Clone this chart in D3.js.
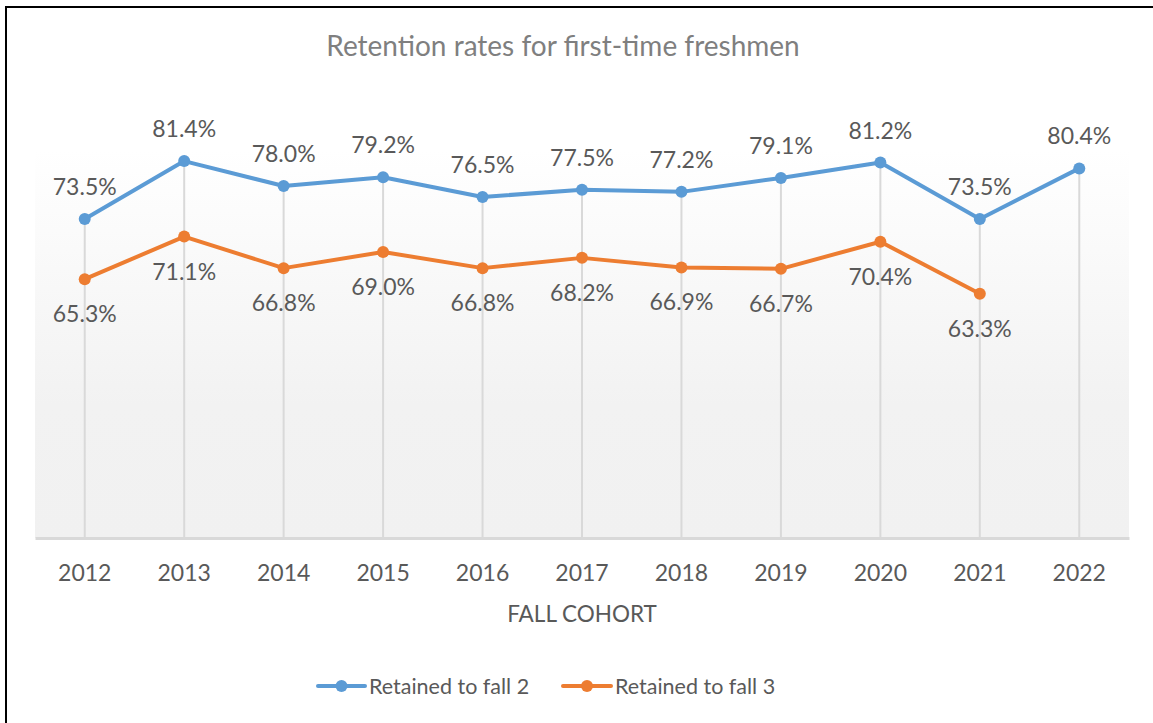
<!DOCTYPE html>
<html>
<head>
<meta charset="utf-8">
<script src="https://cdn.jsdelivr.net/npm/d3@7"></script>
<style>
  body { margin: 0; background: #fff; }
  text { font-family: Lato, "Open Sans", sans-serif; }
</style>
</head>
<body>
<div id="chart"></div>
<script>
// chart data
const years = ["2012", "2013", "2014", "2015", "2016", "2017", "2018", "2019", "2020", "2021", "2022"];
const fall2 = [73.5, 81.4, 78.0, 79.2, 76.5, 77.5, 77.2, 79.1, 81.2, 73.5, 80.4];
const fall3 = [65.3, 71.1, 66.8, 69.0, 66.8, 68.2, 66.9, 66.7, 70.4, 63.3, null];
const seriesNames = ["Retained to fall 2", "Retained to fall 3"];

const svgWidth = 1153;
const svgHeight = 723;
const plot = { left: 35, right: 1129, top: 98, bottom: 538 };
const blue = "#5b9bd5";
const orange = "#ed7d31";
const textColor = "#595959";

const svg = d3.select("#chart")
  .append("svg")
  .attr("width", svgWidth)
  .attr("height", svgHeight);

// outer border (right and bottom edges fall outside the picture)
svg.append("rect")
  .attr("x", 6)
  .attr("y", 7)
  .attr("width", svgWidth + 10)
  .attr("height", svgHeight + 10)
  .attr("fill", "#fff")
  .attr("stroke", "#000")
  .attr("stroke-width", 2);

// plot background gradient
const grad = svg.append("defs").append("linearGradient")
  .attr("id", "bg")
  .attr("x1", 0).attr("y1", 0).attr("x2", 0).attr("y2", 1);
grad.append("stop").attr("offset", "0%").attr("stop-color", "#ffffff");
grad.append("stop").attr("offset", "12%").attr("stop-color", "#ffffff");
grad.append("stop").attr("offset", "70%").attr("stop-color", "#f2f2f2");
grad.append("stop").attr("offset", "100%").attr("stop-color", "#f1f1f1");

svg.append("rect")
  .attr("x", plot.left)
  .attr("y", plot.top)
  .attr("width", plot.right - plot.left)
  .attr("height", plot.bottom - plot.top)
  .attr("fill", "url(#bg)");

// scales
const x = d3.scaleBand(years, [plot.left, plot.right]);
const y = d3.scaleLinear([30, 90], [plot.bottom, plot.top]);
const cx = d => x(d) + x.bandwidth() / 2;

// drop lines from the highest point to the floor
svg.selectAll(".drop")
  .data(years)
  .enter()
  .append("line")
  .attr("class", "drop")
  .attr("x1", d => cx(d))
  .attr("x2", d => cx(d))
  .attr("y1", (d, i) => y(d3.max([fall2[i], fall3[i]])))
  .attr("y2", plot.bottom)
  .attr("stroke", "#d9d9d9")
  .attr("stroke-width", 2);

// floor / x axis
const xAxis = svg.append("g")
  .attr("transform", `translate(0,${plot.bottom})`)
  .call(d3.axisBottom(x).tickSize(0).tickPadding(0));
xAxis.select(".domain")
  .attr("stroke", "#d9d9d9")
  .attr("stroke-width", 3);
xAxis.selectAll("text")
  .attr("y", 43)
  .attr("dy", 0)
  .style("font-family", "Lato, 'Open Sans', sans-serif")
  .style("font-size", "23px")
  .style("fill", textColor);

svg.append("text")
  .attr("x", (plot.left + plot.right) / 2)
  .attr("y", 622)
  .attr("text-anchor", "middle")
  .style("font-size", "22.5px")
  .style("fill", textColor)
  .text("FALL COHORT");

// title
svg.append("text")
  .attr("x", 563)
  .attr("y", 56)
  .attr("text-anchor", "middle")
  .style("font-size", "28px")
  .style("fill", "#7f7f7f")
  .text("Retention rates for first-time freshmen");

// lines and markers
const series = [
  { values: fall2, color: blue, dy: -24 },
  { values: fall3, color: orange, dy: 43 }
];

const line = d3.line()
  .defined(d => d.v != null)
  .x(d => cx(d.year))
  .y(d => y(d.v));

series.forEach(s => {
  const pts = years.map((yr, i) => ({ year: yr, v: s.values[i] }));
  svg.append("path")
    .datum(pts)
    .attr("d", line)
    .attr("fill", "none")
    .attr("stroke", s.color)
    .attr("stroke-width", 4)
    .attr("stroke-linejoin", "round");

  const valid = pts.filter(d => d.v != null);
  svg.selectAll(null)
    .data(valid)
    .enter()
    .append("circle")
    .attr("cx", d => cx(d.year))
    .attr("cy", d => y(d.v))
    .attr("r", 6)
    .attr("fill", s.color);

  svg.selectAll(null)
    .data(valid)
    .enter()
    .append("text")
    .attr("x", d => cx(d.year))
    .attr("y", d => y(d.v) + s.dy)
    .attr("text-anchor", "middle")
    .style("font-size", "23px")
    .style("fill", textColor)
    .text(d => d.v.toFixed(1) + "%");
});

// legend
const legend = [
  { name: seriesNames[0], color: blue, x1: 318, x2: 365, tx: 369 },
  { name: seriesNames[1], color: orange, x1: 563, x2: 611, tx: 615 }
];
const lg = svg.selectAll(".legend")
  .data(legend)
  .enter()
  .append("g")
  .attr("class", "legend");
lg.append("line")
  .attr("x1", d => d.x1)
  .attr("x2", d => d.x2)
  .attr("y1", 686)
  .attr("y2", 686)
  .attr("stroke", d => d.color)
  .attr("stroke-width", 4)
  .attr("stroke-linecap", "round");
lg.append("circle")
  .attr("cx", d => (d.x1 + d.x2) / 2)
  .attr("cy", 686)
  .attr("r", 6)
  .attr("fill", d => d.color);
lg.append("text")
  .attr("x", d => d.tx)
  .attr("y", 694)
  .style("font-size", "21.5px")
  .style("fill", textColor)
  .text(d => d.name);
</script>
</body>
</html>
